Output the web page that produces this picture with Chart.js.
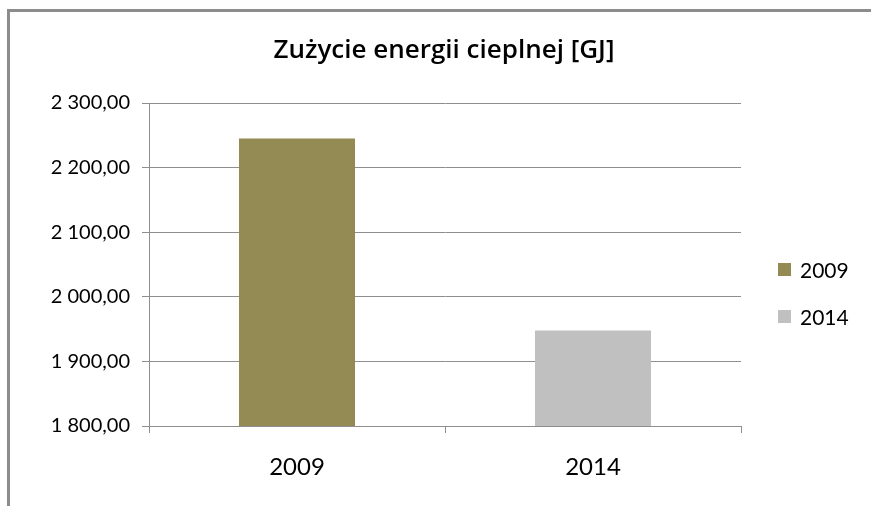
<!DOCTYPE html>
<html>
<head>
<meta charset="utf-8">
<script src="https://cdn.jsdelivr.net/npm/chart.js@4.4.1/dist/chart.umd.min.js"></script>
<style>
    html, body { margin: 0; padding: 0; background: #fff; }
    #wrap { position: relative; width: 871px; height: 506px; overflow: hidden; }
    #frame { position: absolute; left: 7px; top: 9px; width: 900px; height: 600px; border: 3px solid #8c8c8c; box-sizing: border-box; }
    #c { position: absolute; left: 0; top: 0; }
</style>
</head>
<body>
<div id="wrap">
    <div id="frame"></div>
    <canvas id="c" width="871" height="506"></canvas>
</div>
<script>
const categories = ['2009', '2014'];
const values = [2245, 1948];
const barColors = ['#948A54', '#C0C0C0'];
const yTicks = [1800, 1900, 2000, 2100, 2200, 2300];

const FONT = 'Lato, "Open Sans", sans-serif';
const gridColor = '#8e8e8e';

function fmt(v) {
    const parts = v.toFixed(2).split('.');
    return parts[0].replace(/\B(?=(\d{3})+(?!\d))/g, ' ') + ',' + parts[1];
}

// legend drawn on the right, one entry per category
const sideLegend = {
    id: 'sideLegend',
    afterDraw(chart) {
        const ctx = chart.ctx;
        ctx.save();
        ctx.font = '21px ' + FONT;
        ctx.textBaseline = 'alphabetic';
        categories.forEach((cat, i) => {
            const top = 263 + i * 47;
            ctx.fillStyle = barColors[i];
            ctx.fillRect(778, top, 13, 13);
            ctx.fillStyle = '#000';
            ctx.fillText(cat, 800, top + 15);
        });
        ctx.restore();
    }
};

new Chart(document.getElementById('c'), {
    type: 'bar',
    data: {
        labels: categories,
        datasets: [{
            label: 'Zużycie energii cieplnej',
            data: values,
            backgroundColor: barColors,
            categoryPercentage: 1,
            barPercentage: 0.392
        }]
    },
    options: {
        responsive: false,
        animation: false,
        layout: { padding: { left: 17, right: 0, top: 0, bottom: 0 } },
        plugins: {
            legend: { display: false },
            tooltip: { enabled: false },
            title: {
                display: true,
                text: 'Zużycie energii cieplnej [GJ]',
                color: '#000',
                font: { family: '"Open Sans", Lato, sans-serif', size: 26, weight: '600', lineHeight: 1.2 },
                padding: { top: 35.4, bottom: 36.4 }
            }
        },
        scales: {
            x: {
                afterFit: s => { s.height = 80; },
                grid: { display: true, drawOnChartArea: false, drawTicks: true, tickLength: 7, color: gridColor, offset: true },
                border: { display: true, color: gridColor },
                ticks: { color: '#000', font: { family: FONT, size: 24 }, padding: 20 }
            },
            y: {
                min: 1800,
                max: 2300,
                afterFit: s => { s.width = 132; },
                afterBuildTicks: s => { s.ticks = yTicks.map(v => ({ value: v })); },
                grid: { color: gridColor, tickLength: 7, drawTicks: true },
                border: { display: true, color: gridColor },
                ticks: { color: '#000', font: { family: FONT, size: 20 }, padding: 12, callback: v => fmt(v) }
            },
            y2: {
                position: 'right',
                display: true,
                afterFit: s => { s.width = 130; },
                grid: { display: false },
                border: { display: false },
                ticks: { display: false }
            }
        }
    },
    plugins: [sideLegend]
});
</script>
</body>
</html>
